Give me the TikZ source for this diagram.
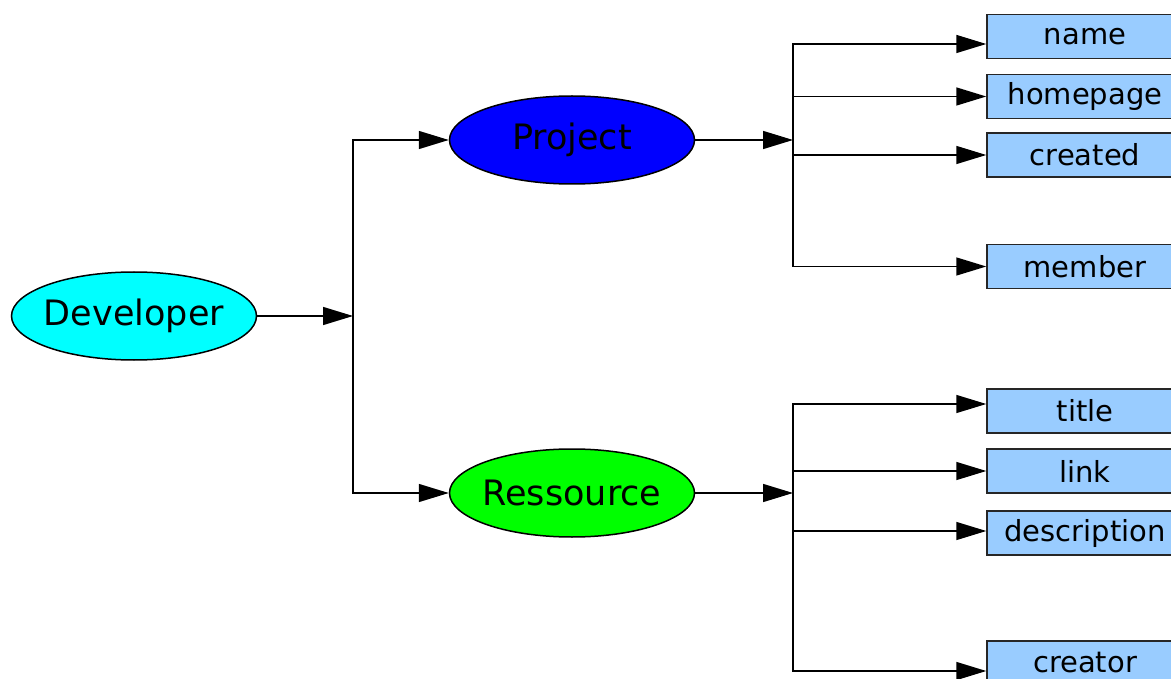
\documentclass[tikz,border=0pt]{standalone}
\usepackage{fontspec}
\setmainfont{DejaVu Sans}
\usetikzlibrary{shapes.geometric,arrows.meta}
\definecolor{leafblue}{RGB}{153,204,255}
\definecolor{devcyan}{RGB}{0,255,255}
\definecolor{projblue}{RGB}{0,0,255}
\definecolor{resgreen}{RGB}{0,255,0}
\newcommand{\ctext}[1]{\makebox[0pt]{#1}}
\begin{document}
\begin{tikzpicture}[x=1pt, y=-1pt,
    arr/.style={-{Triangle[length=30pt,width=18pt]}, line width=1.5pt},
    class/.style={ellipse, draw, line width=1.5pt, minimum width=245pt, minimum height=88pt, inner sep=0pt, font=\fontsize{35}{40}\selectfont},
    leaf/.style={rectangle, draw=black!85, line width=1.5pt, fill=leafblue, minimum width=196pt, minimum height=44pt, inner sep=0pt, font=\fontsize{29}{34}\selectfont}]
    \useasboundingbox (0,0) rectangle (1171,679);
    \node[class, fill=devcyan] (dev) at (134,316) {\ctext{Developer}};
    \node[class, fill=projblue] (proj) at (572,140) {\ctext{Project}};
    \node[class, fill=resgreen] (res) at (572,493) {\ctext{Ressource}};
    \coordinate (dj) at (353,316);
    \coordinate (pj) at (793,140);
    \coordinate (rj) at (793,493);
    \draw[arr] (dev) -- (dj);
    \draw[arr] (dj) |- (proj);
    \draw[arr] (dj) |- (res);
    \draw[arr] (proj) -- (pj);
    \draw[arr] (res) -- (rj);
    \foreach \lbl/\yc/\off in {name/36.5/-7.5, homepage/96.5/0, created/155/0, member/266.5/0} {
        \node[leaf] (\lbl) at (1085,\yc) {\lbl};
        \draw[arr] (pj) |- ([yshift=\off pt]\lbl.west);
    }
    \foreach \lbl/\yc/\off in {title/411/7, link/471/0, description/533/2, creator/663/-8} {
        \node[leaf] (\lbl) at (1085,\yc) {\lbl};
        \draw[arr] (rj) |- ([yshift=\off pt]\lbl.west);
    }
\end{tikzpicture}
\end{document}
